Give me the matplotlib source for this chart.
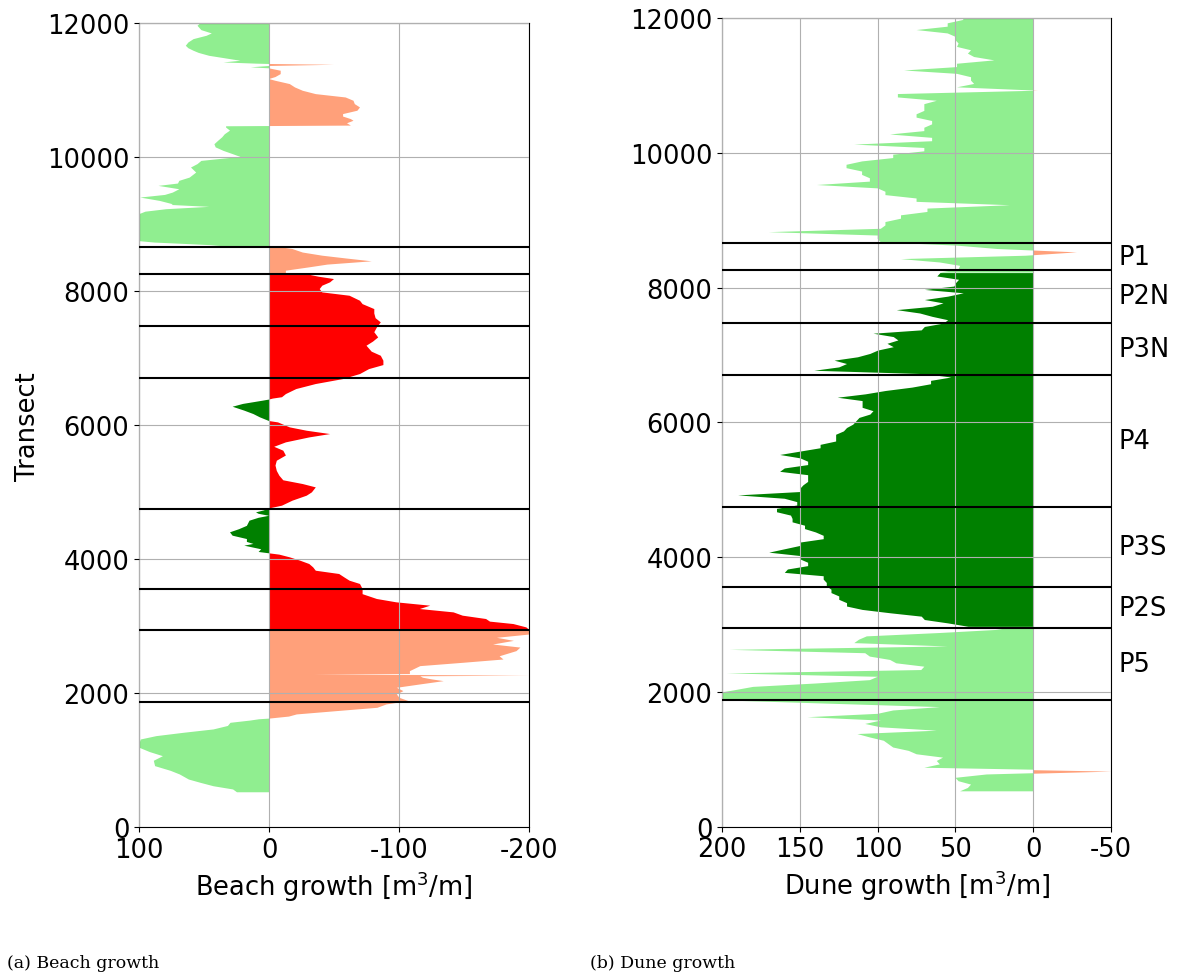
import numpy as np
import matplotlib
matplotlib.use('Agg')
import matplotlib.pyplot as plt
import matplotlib.transforms as mtransforms

plt.rcParams['axes.unicode_minus'] = False

# section boundaries along the coast (transect numbers) and their names
boundaries = [1875, 2950, 3555, 4750, 6705, 7480, 8265, 8660]
section_names = ['P5', 'P2S', 'P3S', 'P4', 'P3N', 'P2N', 'P1']
nourished = (2950, 8265)

# beach volume change per transect [m3/m]
beach_transect = [
    530, 572, 620, 671, 720, 796, 850, 920, 1000, 1069, 1130, 1194, 1260, 1318, 1368,
    1418, 1468, 1520, 1567, 1600, 1620, 1630, 1660, 1692, 1742, 1791, 1841, 1891, 1940,
    1990, 2040, 2090, 2140, 2189, 2215, 2240, 2262, 2270, 2280, 2287, 2295, 2338, 2413, 2463,
    2512, 2560, 2637, 2690, 2736, 2790, 2836, 2885, 2950, 2984, 3034, 3070, 3109, 3159,
    3208, 3258, 3308, 3358, 3408, 3480, 3557, 3632, 3681, 3730, 3781, 3830, 3880, 3930,
    3980, 4030, 4070, 4090, 4110, 4150, 4204, 4230, 4260, 4303, 4353, 4403, 4450, 4500,
    4577, 4620, 4650, 4680, 4701, 4730, 4760, 4780, 4801, 4875, 4950, 5000, 5074, 5124,
    5180, 5248, 5320, 5400, 5472, 5550, 5622, 5680, 5746, 5820, 5870, 5920, 5970, 6044,
    6065, 6120, 6169, 6220, 6278, 6320, 6368, 6385, 6400, 6420, 6467, 6542, 6617, 6691,
    6766, 6840, 6900, 6965, 7039, 7100, 7189, 7250, 7313, 7390, 7462, 7537, 7600, 7670,
    7736, 7810, 7860, 7935, 7985, 8035, 8085, 8135, 8184, 8220, 8260, 8270, 8309, 8359,
    8400, 8449, 8490, 8533, 8580, 8633, 8655, 8665, 8690, 8704, 8729, 8754, 8800, 8853,
    8900, 8953, 9000, 9052, 9100, 9152, 9190, 9227, 9262, 9290, 9301, 9351, 9401, 9440,
    9475, 9525, 9575, 9610, 9650, 9699, 9774, 9849, 9900, 9948, 10008, 10050, 10098,
    10150, 10197, 10250, 10300, 10346, 10400, 10446, 10465, 10475, 10510, 10547, 10572,
    10610, 10647, 10697, 10746, 10796, 10846, 10895, 10945, 10995, 11045, 11095, 11144,
    11170, 11200, 11244, 11294, 11330, 11345, 11365, 11383, 11395, 11400, 11418, 11443,
    11468, 11517, 11560, 11592, 11630, 11667, 11716, 11766, 11816, 11851, 11900, 11965,
    12000]
beach_growth = [
    25, 28, 43, 53, 62, 69, 76, 88, 89, 82, 92, 100, 100, 99, 87,
    66, 43, 32, 30, 15, 8, 0, -15, -21, -52, -83, -90, -107, -100,
    -98, -103, -98, -116, -134, -125, -118, -116, -200, -120, -34, -108, -108, -116, -149,
    -180, -177, -190, -193, -172, -188, -175, -200, -200, -198, -188, -170, -167, -149,
    -142, -116, -124, -98, -83, -72, -72, -70, -62, -58, -54, -36, -34, -31,
    -24, -16, -8, 0, 8, 6, 19, 12, 17, 17, 28, 30, 23, 17,
    15, 8, 0, 8, 10, 4, 0, -5, -10, -18, -29, -33, -36, -26,
    -11, -8, -6, -5, -6, -13, -11, -4, -13, -31, -47, -29, -16, -7,
    0, 7, 12, 19, 28, 20, 5, 0, -3, -10, -13, -21, -36, -57,
    -70, -77, -88, -88, -86, -79, -75, -80, -84, -81, -83, -86, -82, -81,
    -81, -72, -70, -62, -41, -39, -41, -47, -50, -38, -28, -13, -13, -31,
    -45, -79, -60, -41, -26, -18, -10, 30, 45, 60, 88, 102, 105, 104,
    106, 104, 103, 102, 101, 100, 95, 79, 46, 75, 74, 84, 99, 80,
    74, 69, 85, 70, 69, 61, 56, 60, 55, 52, 22, 28, 35,
    41, 42, 39, 36, 34, 30, 33, 33, -63, -60, -65, -63,
    -57, -57, -68, -70, -66, -65, -59, -36, -26, -20, -16, -5,
    0, -5, -9, -9, 0, 14, 0, -50, 0, 10, 35, 22,
    30, 46, 54, 58, 62, 64, 62, 58, 48, 44, 52, 55,
    53]

# dune volume change, one value every 50 m from transect 525
dune_growth = [
    47, 42, 40, 48, 50, 30, -50, 70, 60, 62, 58, 75, 80, 90, 93, 96, 105, 113, 62, 98,
    108, 98, 145, 100, 90, 60, 130, 200, 205, 205, 192, 180, 140, 105, 100, 197, 72, 70,
    88, 92, 105, 108, 195, 55, 115, 112, 107, 60, 20,
    42, 55, 70, 72, 92, 110, 120, 120, 125, 125, 130, 130, 133, 133, 135, 135, 160, 158,
    145, 145, 150, 150, 170, 160, 150, 150, 135, 135, 140, 147, 147, 155, 155, 156, 165,
    165, 152, 152, 160, 190, 150, 150, 148, 145, 145, 145, 163, 160, 145, 145, 150, 163,
    150, 137, 137, 127, 127, 127, 122, 120, 116, 114, 112, 105, 103, 110, 110, 110, 126,
    108, 95, 78, 66, 66, 53, 70, 141, 125, 120, 128, 113, 105, 100, 90, 94, 87, 90, 103,
    72, 70, 58, 55, 65, 73, 88, 65, 58, 70, 55, 45, 70, 51, 50, 48, 62, 60,
    48, 47, 60, 85, 5, -28, 23, 49, 98, 100, 100, 170, 98, 95, 95, 85, 85, 68, 68, 15,
    75, 75, 95, 95, 100, 139, 105, 105, 110, 110, 120, 120, 110, 90, 90, 70, 70, 115, 65,
    65, 92, 70, 70, 65, 65, 75, 75, 70, 70, 70, 62, 87, 87, -3, 49, 38, 40, 40, 49, 83,
    49, 49, 25, 38, 42, 40, 49, 48, 50, 50, 55, 75, 55, 55, 45, 45]
dune_transect = np.arange(525, 12026, 50)
assert len(dune_transect) == len(dune_growth)
assert len(beach_transect) == len(beach_growth)

light = ('lightgreen', 'lightsalmon')
dark = ('green', 'red')


def draw_profile(ax, t, v):
    t = np.asarray(t, dtype=float)
    v = np.asarray(v, dtype=float)
    inner = (t >= nourished[0]) & (t <= nourished[1])
    i0 = np.argmax(inner)
    i1 = len(t) - np.argmax(inner[::-1])
    pieces = [(slice(0, i0 + 1), light), (slice(i0, i1), dark), (slice(i1 - 1, None), light)]
    for sl, (pos_c, neg_c) in pieces:
        ts, vs = t[sl], v[sl]
        ax.fill_betweenx(ts, 0, vs, where=vs >= 0, color=pos_c, interpolate=True, lw=0)
        ax.fill_betweenx(ts, 0, vs, where=vs <= 0, color=neg_c, interpolate=True, lw=0)
    for b in boundaries:
        ax.axhline(b, color='black', lw=1.5, zorder=3)
    ax.grid(True, color='#b0b0b0', lw=0.8)
    ax.set_axisbelow(False)
    ax.set_ylim(0, 12000)
    ax.set_yticks(range(0, 12001, 2000))
    ax.tick_params(labelsize=18.5)


fig = plt.figure(figsize=(11.8, 9.78), dpi=100)
ax1 = fig.add_axes([0.1178, 0.1531, 0.3305, 0.8219])
ax2 = fig.add_axes([0.6119, 0.1537, 0.3297, 0.8266])

draw_profile(ax1, beach_transect, beach_growth)
ax1.set_xlim(100, -200)
ax1.set_xticks([100, 0, -100, -200])
ax1.set_xlabel('Beach growth [m$^3$/m]', fontsize=18.5)
ax1.set_ylabel('Transect', fontsize=18.5)

draw_profile(ax2, dune_transect, dune_growth)
ax2.set_xlim(200, -50)
ax2.set_xticks([200, 150, 100, 50, 0, -50])
ax2.set_xlabel('Dune growth [m$^3$/m]', fontsize=18.5)

trans = mtransforms.blended_transform_factory(ax2.transAxes, ax2.transData)
for name, lo, hi in zip(section_names, boundaries[:-1], boundaries[1:]):
    ax2.text(1.018, (lo + hi) / 2, name, transform=trans, va='center', ha='left',
             fontsize=18.5)

fig.text(0.006, 0.015, '(a) Beach growth', family='DejaVu Serif', fontsize=12.5, va='center')
fig.text(0.5, 0.015, '(b) Dune growth', family='DejaVu Serif', fontsize=12.5, va='center')

fig.savefig('out.png', dpi=100)
